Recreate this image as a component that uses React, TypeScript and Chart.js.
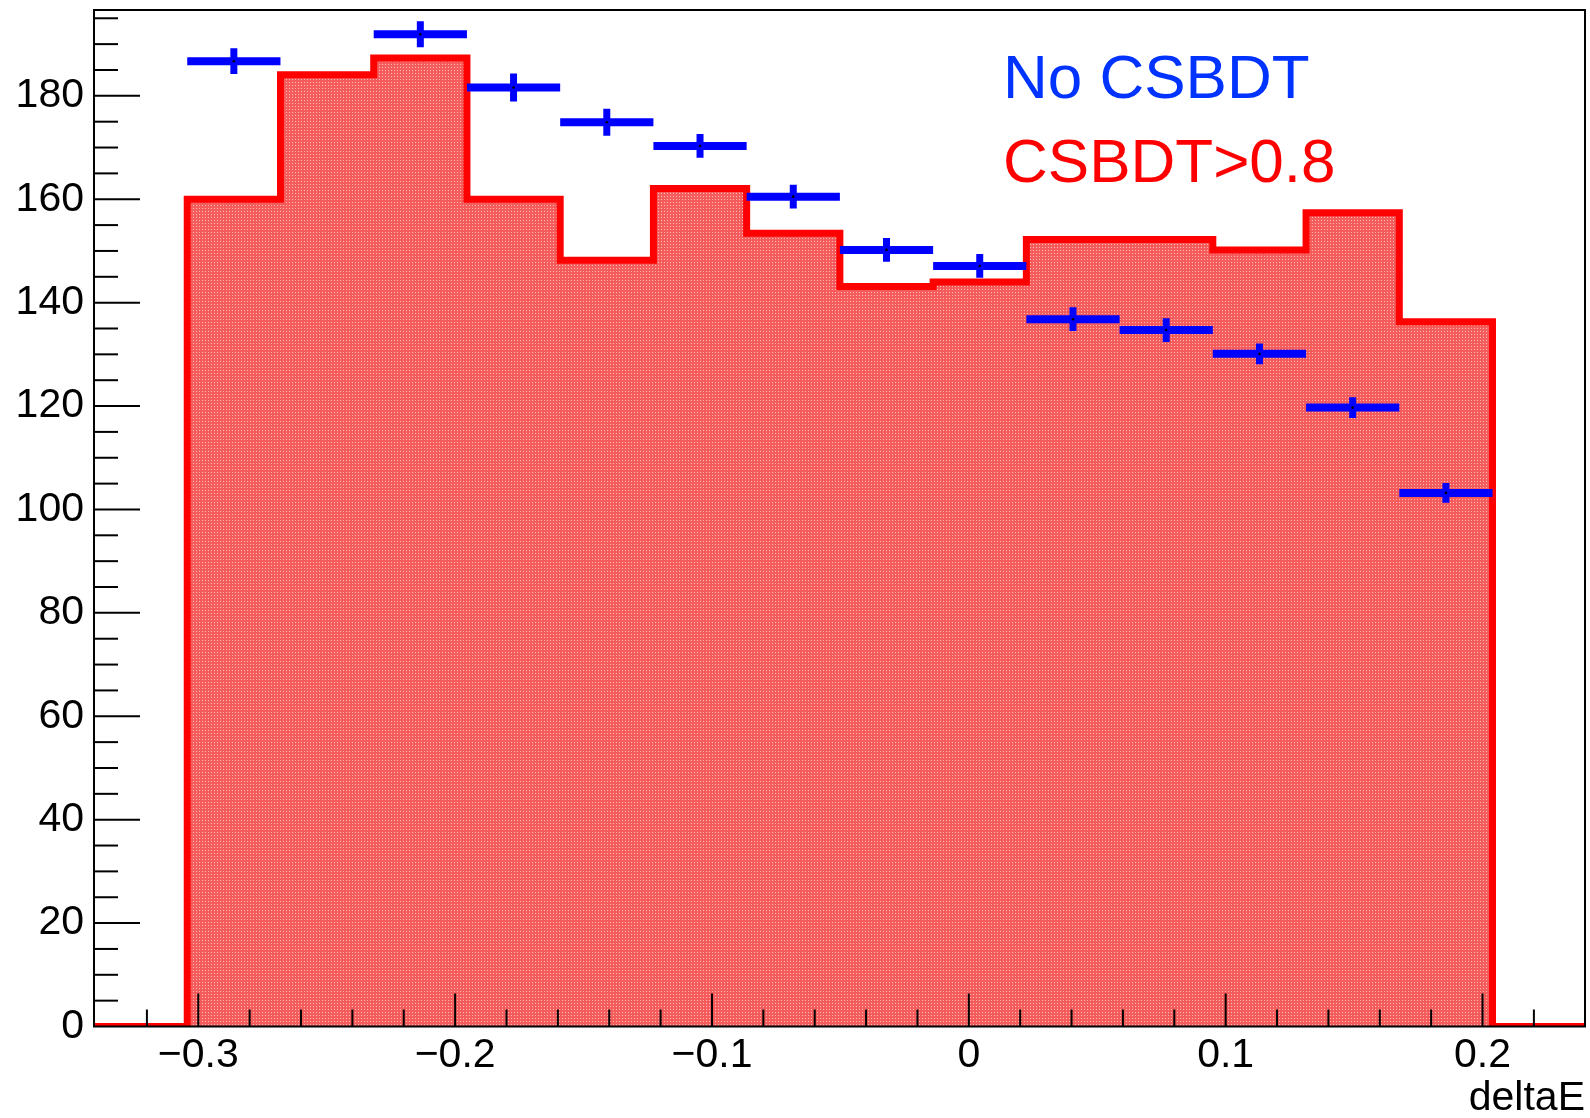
import React, { useEffect, useRef } from 'react';
import { Chart, registerables } from 'chart.js';

Chart.register(...registerables);

// ---- data ----
const binEdges = [-0.3043, -0.268, -0.2317, -0.1954, -0.1591, -0.1228, -0.0865, -0.0502, -0.0139, 0.0224, 0.0587, 0.095, 0.1313, 0.1676, 0.2039];
const redCounts = [160.0, 184.1, 187.3, 160.0, 148.2, 162.1, 153.4, 143.1, 144.0, 152.2, 152.2, 150.2, 157.4, 136.3];
const blueCounts: (number | null)[] = [186.7, null, 191.9, 181.6, 174.9, 170.3, 160.5, 150.2, 147.1, 136.8, 134.7, 130.1, 119.7, 103.2];
const blueErrors: (number | null)[] = [2.5, null, 2.5, 2.7, 2.6, 2.3, 2.3, 2.3, 2.3, 2.3, 2.3, 2.0, 2.0, 1.9];
const xTickValues = [-0.3, -0.2, -0.1, 0, 0.1, 0.2];
const yTickValues = [0, 20, 40, 60, 80, 100, 120, 140, 160, 180];
const xRange = [-0.3406, 0.2399];
const yRange = [0, 196.6];
const xTitle = 'deltaE';
const labelBlue = 'No CSBDT';
const labelRed = 'CSBDT>0.8';

const FONT = '"Liberation Sans", Arial, Helvetica, sans-serif';

function makePattern(): CanvasPattern | string {
  const c = document.createElement('canvas');
  c.width = 3;
  c.height = 3;
  const g = c.getContext('2d');
  if (!g) return 'rgb(244,104,104)';
  const A = [245, 92, 92];
  const L = [255, 185, 185];
  const img = g.createImageData(3, 3);
  for (let yy = 0; yy < 3; yy++) {
    for (let xx = 0; xx < 3; xx++) {
      const k = (yy * 3 + xx) * 4;
      const col = xx === 1 && yy === 1 ? L : A;
      img.data[k] = col[0];
      img.data[k + 1] = col[1];
      img.data[k + 2] = col[2];
      img.data[k + 3] = 255;
    }
  }
  g.putImageData(img, 0, 0);
  const p = g.createPattern(c, 'repeat');
  return p || 'rgb(244,104,104)';
}

const fmtX = (v: number) => {
  const r = Math.round(v * 10) / 10;
  if (r === 0) return '0';
  return (r < 0 ? '\u2212' : '') + Math.abs(r).toString();
};

const rootStylePlugin = {
  id: 'rootStyle',
  afterDatasetsDraw(chart: any) {
    const { ctx, chartArea: a, scales } = chart;
    const x = scales.x;
    const y = scales.y;
    ctx.save();
    ctx.strokeStyle = '#000';
    ctx.lineWidth = 2;
    ctx.lineCap = 'butt';

    // x ticks (major 0.1, minor 0.02)
    const xStep = 0.02;
    for (let k = Math.ceil(x.min / xStep); k <= Math.floor(x.max / xStep); k++) {
      const v = k * xStep;
      const px = x.getPixelForValue(v);
      if (px < a.left + 3 || px > a.right - 3) continue;
      const major = k % 5 === 0;
      const len = major ? 33 : 17;
      ctx.beginPath();
      ctx.moveTo(px, a.bottom);
      ctx.lineTo(px, a.bottom - len);
      ctx.stroke();
    }
    // y ticks (major 20, minor 5)
    const yStep = 5;
    for (let k = Math.ceil(y.min / yStep); k <= Math.floor(y.max / yStep); k++) {
      const v = k * yStep;
      const py = y.getPixelForValue(v);
      if (py < a.top + 3 || py > a.bottom - 1) continue;
      const major = k % 4 === 0;
      const len = major ? 46 : 24;
      ctx.beginPath();
      ctx.moveTo(a.left, py);
      ctx.lineTo(a.left + len, py);
      ctx.stroke();
    }
    // frame
    ctx.strokeRect(a.left, a.top, a.right - a.left, a.bottom - a.top);

    // text annotations
    ctx.textBaseline = 'alphabetic';
    ctx.textAlign = 'left';
    ctx.font = `62px ${FONT}`;
    ctx.fillStyle = '#0033ff';
    ctx.fillText(labelBlue, 1003, 98);
    ctx.fillStyle = '#ff0000';
    ctx.fillText(labelRed, 1003, 182);
    ctx.restore();
  },
};

export default function App() {
  const ref = useRef<HTMLCanvasElement | null>(null);

  useEffect(() => {
    const canvas = ref.current;
    if (!canvas) return;
    const pattern = makePattern();

    const redPoints = [
      { x: xRange[0], y: 0 },
      ...redCounts.map((v, i) => ({ x: binEdges[i], y: v })),
      { x: binEdges[binEdges.length - 1], y: 0 },
      { x: xRange[1], y: 0 },
    ];

    const hPoints: any[] = [];
    const vPoints: any[] = [];
    const dots: any[] = [];
    blueCounts.forEach((v, i) => {
      if (v === null) return;
      const e = blueErrors[i] ?? 0;
      const lo = binEdges[i];
      const hi = binEdges[i + 1];
      const c = (lo + hi) / 2;
      hPoints.push({ x: lo, y: v }, { x: hi, y: v }, { x: hi, y: null });
      vPoints.push({ x: c, y: v - e }, { x: c, y: v + e }, { x: c, y: null });
      dots.push({ x: c, y: v });
    });

    const chart = new Chart(canvas, {
      type: 'line',
      data: {
        datasets: [
          {
            type: 'scatter',
            data: dots,
            pointRadius: 1.3,
            pointBackgroundColor: '#000',
            pointBorderWidth: 0,
            showLine: false,
            order: 0,
          } as any,
          {
            data: vPoints,
            borderColor: '#0000ff',
            borderWidth: 7,
            borderCapStyle: 'butt',
            pointRadius: 0,
            spanGaps: false,
            fill: false,
            order: 1,
          },
          {
            data: hPoints,
            borderColor: '#0000ff',
            borderWidth: 8,
            borderCapStyle: 'butt',
            pointRadius: 0,
            spanGaps: false,
            fill: false,
            order: 2,
          },
          {
            data: redPoints,
            stepped: 'before',
            borderColor: '#ff0000',
            borderWidth: 7,
            borderJoinStyle: 'miter',
            borderCapStyle: 'butt',
            backgroundColor: pattern as any,
            fill: 'origin',
            pointRadius: 0,
            order: 5,
          },
        ],
      },
      options: {
        animation: false,
        responsive: false,
        events: [],
        layout: { padding: { top: 10, right: 5, left: 0, bottom: 0 } },
        plugins: {
          legend: { display: false },
          tooltip: { enabled: false },
        },
        scales: {
          x: {
            type: 'linear',
            min: xRange[0],
            max: xRange[1],
            grid: { display: false, drawTicks: false },
            border: { display: false },
            afterBuildTicks: (s: any) => {
              s.ticks = xTickValues.map((v) => ({ value: v }));
            },
            afterFit: (s: any) => {
              s.height = 91.5;
              s.paddingLeft = 0;
              s.paddingRight = 0;
            },
            ticks: {
              padding: 5,
              color: '#000',
              font: { family: FONT, size: 41 },
              maxRotation: 0,
              autoSkip: false,
              callback: (v: any) => fmtX(Number(v)),
            },
            title: {
              display: true,
              text: xTitle,
              align: 'end',
              color: '#000',
              font: { family: FONT, size: 41, lineHeight: 0.95 },
              padding: 0,
            },
          },
          y: {
            type: 'linear',
            min: yRange[0],
            max: yRange[1],
            grid: { display: false, drawTicks: false },
            border: { display: false },
            afterBuildTicks: (s: any) => {
              s.ticks = yTickValues.map((v) => ({ value: v }));
            },
            afterFit: (s: any) => {
              s.width = 94;
              s.paddingTop = 0;
              s.paddingBottom = 0;
            },
            ticks: {
              padding: 10,
              color: '#000',
              font: { family: FONT, size: 41 },
              autoSkip: false,
              callback: (v: any) => String(Math.round(Number(v))),
            },
          },
        },
      },
      plugins: [rootStylePlugin],
    } as any);

    return () => {
      chart.destroy();
    };
  }, []);

  return (
    <div style={{ position: 'fixed', left: 0, top: 0, width: 1590, height: 1118, background: '#fff' }}>
      <canvas ref={ref} width={1590} height={1118} style={{ display: 'block', width: 1590, height: 1118 }} />
    </div>
  );
}
